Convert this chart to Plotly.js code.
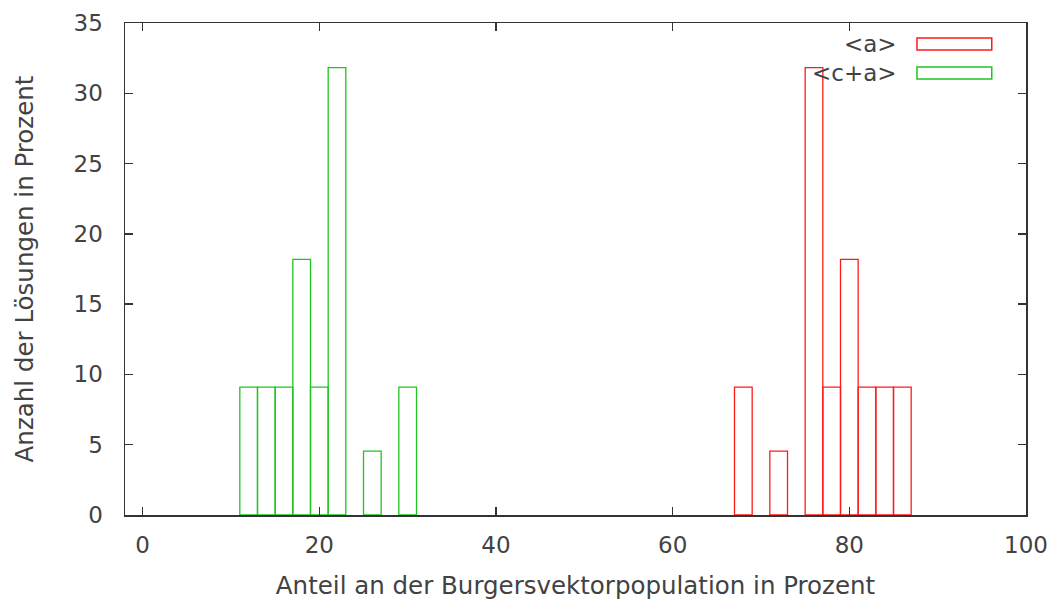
<!DOCTYPE html>
<html>
<head>
<meta charset="utf-8">
<script src="https://cdn.plot.ly/plotly-3.0.1.min.js"></script>
<style>html,body{margin:0;padding:0;background:#fff;}#chart{width:1054px;height:603px;}</style>
</head>
<body>
<div id="chart"></div>
<script>
// Bin centres (bin width 2 %) and share of solutions in percent
const binsA = [68, 72, 76, 78, 80, 82, 84, 86];
const valuesA = [9.09, 4.545, 31.82, 9.09, 18.18, 9.09, 9.09, 9.09];
const binsCA = [12, 14, 16, 18, 20, 22, 26, 30];
const valuesCA = [9.09, 9.09, 9.09, 18.18, 9.09, 31.82, 4.545, 9.09];
const seriesNames = ['<a>', '<c+a>'];
const xTicks = [0, 20, 40, 60, 80, 100];
const yTicks = [0, 5, 10, 15, 20, 25, 30, 35];

const redC = '#ff1a1a';
const greenC = '#1fc51f';
const textC = '#424242';
const tickFont = {family: 'DejaVu Sans, sans-serif', size: 23, color: textC};
const titleFont = {family: 'DejaVu Sans, sans-serif', size: 24.5, color: textC};

const esc = s => s.replace(/</g, '&lt;').replace(/>/g, '&gt;');

const traces = [
  {type: 'bar', x: binsA, y: valuesA, width: 2, name: seriesNames[0],
   marker: {color: 'rgba(0,0,0,0)', line: {color: redC, width: 1.3}}},
  {type: 'bar', x: binsCA, y: valuesCA, width: 2, name: seriesNames[1],
   marker: {color: 'rgba(0,0,0,0)', line: {color: greenC, width: 1.3}}}
];

const axisCommon = {
  showgrid: false, zeroline: false, showline: true, mirror: 'ticks',
  linecolor: '#333', linewidth: 1.5, ticks: 'inside', ticklen: 8,
  tickcolor: '#333', tickwidth: 1.3, tickfont: tickFont
};

const layout = {
  width: 1054, height: 603,
  margin: {l: 125, r: 28, t: 23, b: 88},
  paper_bgcolor: '#fff', plot_bgcolor: '#fff',
  barmode: 'overlay', showlegend: false, font: tickFont,
  xaxis: Object.assign({}, axisCommon, {
    range: [-2, 100], tickvals: xTicks, ticktext: xTicks.map(String),
    ticklabelstandoff: 9,
    title: {text: 'Anteil an der Burgersvektorpopulation in Prozent', font: titleFont, standoff: 20}
  }),
  yaxis: Object.assign({}, axisCommon, {
    range: [0, 35], tickvals: yTicks, ticktext: yTicks.map(String),
    ticklabelstandoff: 16,
    title: {text: 'Anzahl der Lösungen in Prozent', font: titleFont, standoff: 33}
  }),
  annotations: [
    {xref: 'paper', yref: 'paper', x: 0.859, y: 0.957, xanchor: 'right', yanchor: 'middle',
     text: esc(seriesNames[0]), showarrow: false, font: tickFont},
    {xref: 'paper', yref: 'paper', x: 0.859, y: 0.898, xanchor: 'right', yanchor: 'middle',
     text: esc(seriesNames[1]), showarrow: false, font: tickFont}
  ],
  shapes: [
    {type: 'rect', xref: 'paper', yref: 'paper', x0: 0.879, x1: 0.962, y0: 0.945, y1: 0.9695,
     line: {color: redC, width: 1.5}, fillcolor: 'rgba(0,0,0,0)'},
    {type: 'rect', xref: 'paper', yref: 'paper', x0: 0.879, x1: 0.962, y0: 0.886, y1: 0.9106,
     line: {color: greenC, width: 1.5}, fillcolor: 'rgba(0,0,0,0)'}
  ]
};

Plotly.newPlot('chart', traces, layout, {displayModeBar: false, staticPlot: true});
</script>
</body>
</html>
